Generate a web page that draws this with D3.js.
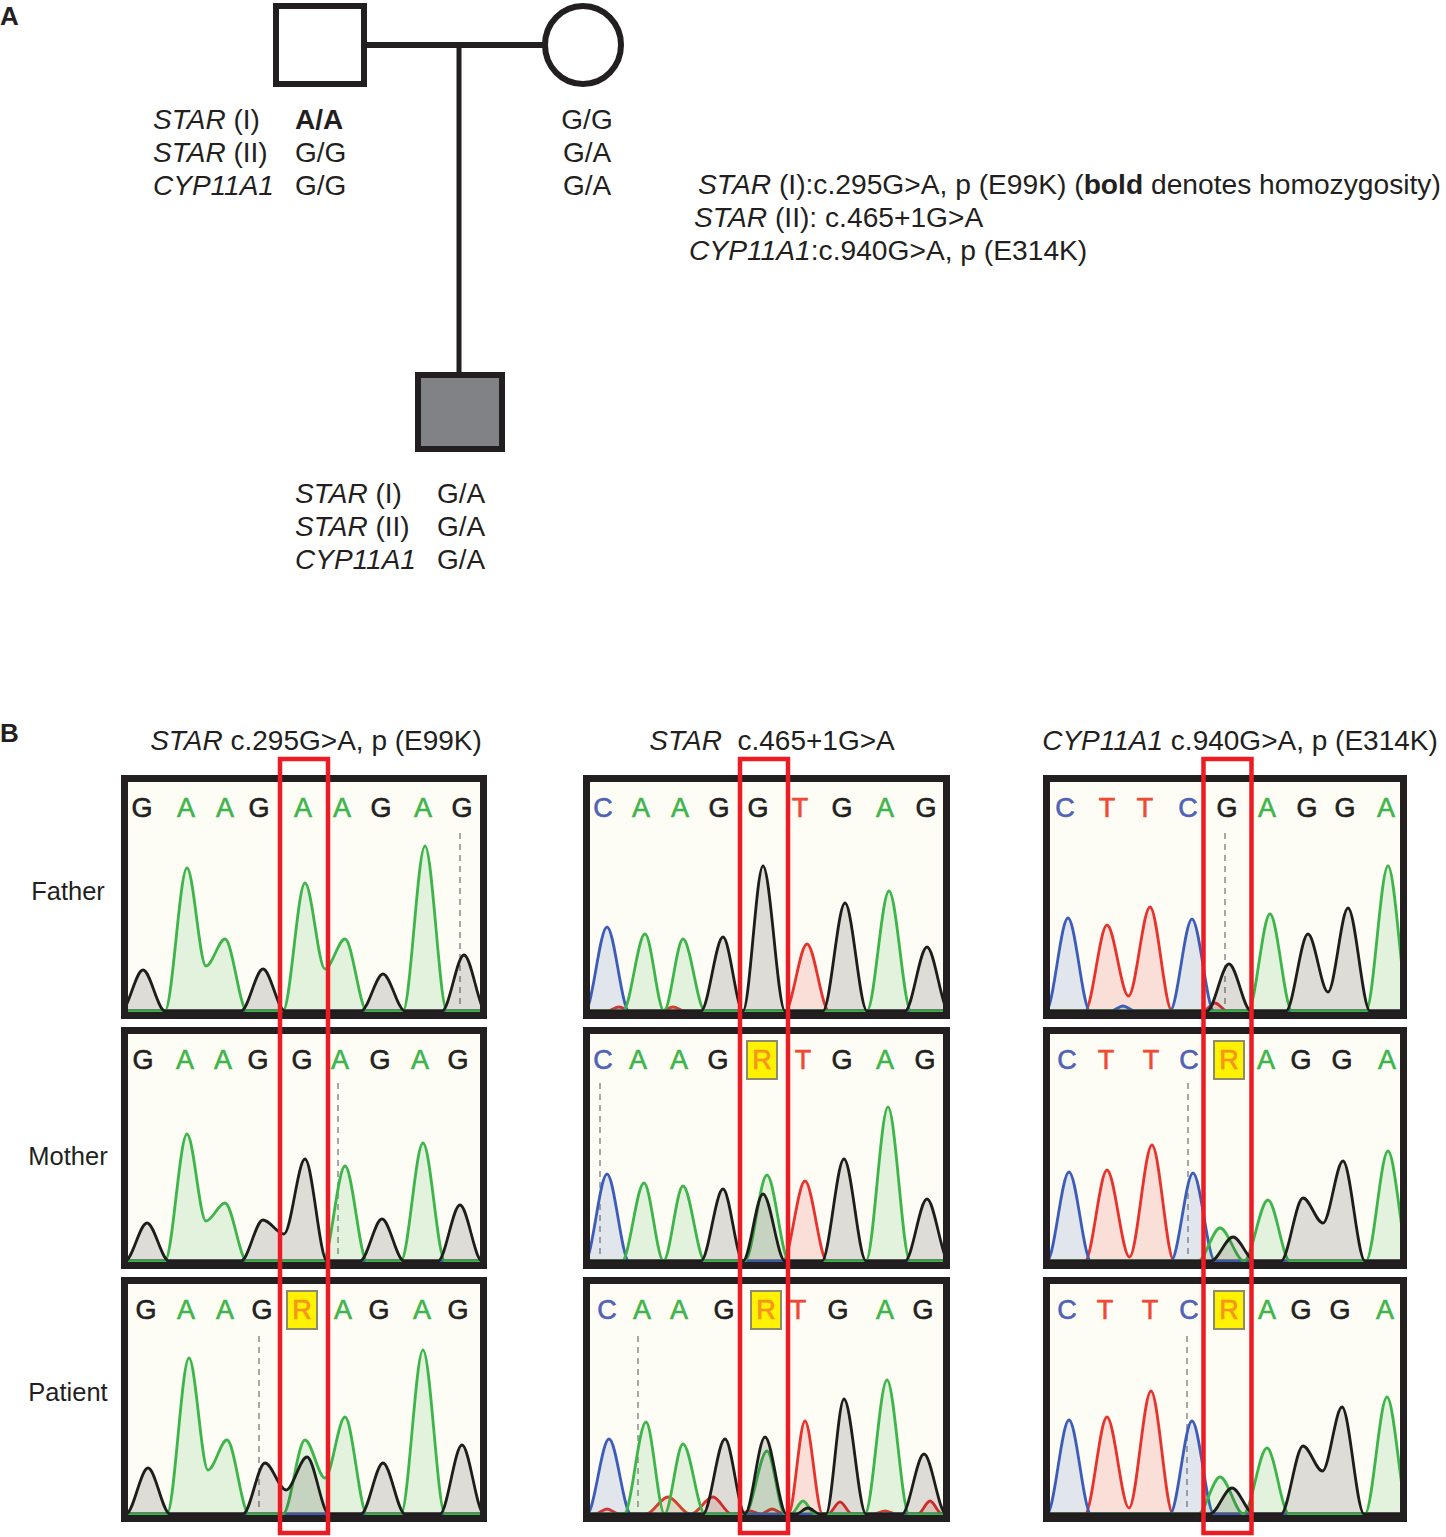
<!DOCTYPE html>
<html lang="en">
<head>
<meta charset="UTF-8">
<title>pedigree and chromatograms</title>
<script src="https://d3js.org/d3.v7.min.js"></script>
<style>
    body { margin: 0; background: #fff; }
    text { font-family: "Liberation Sans", Arial, sans-serif; fill: #231f20; white-space: pre; }
</style>
</head>
<body>
<script>
    const width = 1446
    const height = 1537

    // ---------- panel A: pedigree genotypes
    const genes = ["STAR", "STAR", "CYP11A1"]
    const geneTags = [" (I)", " (II)", ""]
    const fatherGT = ["A/A", "G/G", "G/G"]
    const fatherBold = [true, false, false]
    const motherGT = ["G/G", "G/A", "G/A"]
    const patientGT = ["G/A", "G/A", "G/A"]
    const variantNotes = [" (I):c.295G>A, p (E99K) (", " (II): c.465+1G>A", ":c.940G>A, p (E314K)"]

    // ---------- panel B: chromatograms
    const rowNames = ["Father", "Mother", "Patient"]
    const assayGene = ["STAR", "STAR", "CYP11A1"]
    const assayText = [" c.295G>A, p (E99K)", "  c.465+1G>A", " c.940G>A, p (E314K)"]
    const calls = [
        ["GAAGAAGAG", "GAAGGAGAG", "GAAGRAGAG"],
        ["CAAGGTGAG", "CAAGRTGAG", "CAAGRTGAG"],
        ["CTTCGAGGA", "CTTCRAGGA", "CTTCRAGGA"]
    ]
    const callPos = [
        [[14, 58, 97, 131, 175, 214, 253, 295, 334], [15, 57, 95, 130, 174, 212, 252, 292, 330], [18, 58, 97, 134, 174, 215, 251, 294, 330]],
        [[13, 51, 90, 129, 168, 210, 252, 295, 336], [13, 48, 89, 128, 172, 213, 252, 295, 335], [17, 52, 89, 134, 176, 208, 248, 295, 333]],
        [[15, 57, 95, 138, 177, 217, 257, 295, 336], [17, 56, 101, 139, 179, 216, 251, 292, 337], [17, 55, 100, 139, 179, 217, 251, 290, 335]]
    ]
    // peaks: [trace position, base, height, valley height to next peak of same base]
    const peaksStarI = [
        [[15, "G", 41], [59, "A", 143, 45], [97, "A", 72], [135, "G", 42], [177, "A", 128, 42], [217, "A", 72],
            [255, "G", 37], [297, "A", 165], [336, "G", 56]],
        [[19, "G", 38], [59, "A", 127, 40], [97, "A", 58], [135, "G", 41, 27], [177, "G", 102], [217, "A", 95],
            [254, "G", 42], [295, "A", 118], [332, "G", 56]],
        [[20, "G", 46], [61, "A", 156, 44], [99, "A", 74], [137, "G", 51, 24], [179, "G", 57], [177, "A", 74, 36],
            [217, "A", 97], [255, "G", 51], [295, "A", 164], [334, "G", 69]]
    ]
    const peaksStarII = [
        [[17, "C", 84], [55, "A", 77], [93, "A", 72], [133, "G", 74], [173, "G", 145], [217, "T", 67],
            [255, "G", 108], [299, "A", 120], [337, "G", 64], [29, "T", 4], [83, "T", 4]],
        [[17, "C", 87], [54, "A", 78], [93, "A", 75], [133, "G", 72], [173, "G", 67], [177, "A", 86],
            [215, "T", 80], [254, "G", 102], [298, "A", 154], [337, "G", 62]],
        [[19, "C", 75], [56, "A", 92], [93, "A", 70], [135, "G", 75], [175, "G", 77], [177, "A", 63],
            [215, "T", 93], [254, "G", 115], [297, "A", 134], [334, "G", 60],
            [17, "T", 5], [78, "T", 17], [123, "T", 17], [160, "T", 3], [182, "T", 5], [250, "T", 12],
            [295, "T", 3], [340, "T", 13], [213, "A", 13], [218, "G", 6]]
    ]
    const peaksCyp = [
        [[18, "C", 93], [57, "T", 86, 15], [100, "T", 104], [142, "C", 92], [179, "G", 47], [220, "A", 97],
            [258, "G", 77, 19], [298, "G", 103], [338, "A", 145], [165, "T", 8], [73, "C", 5]],
        [[19, "C", 89], [57, "T", 91, 4], [102, "T", 116], [143, "C", 88], [170, "A", 33, 0], [183, "G", 24],
            [218, "A", 61], [253, "G", 63, 38], [293, "G", 100], [338, "A", 110]],
        [[19, "C", 94], [57, "T", 97, 6], [101, "T", 123], [142, "C", 93], [170, "A", 37, 0], [182, "G", 26],
            [217, "A", 66], [253, "G", 68, 43], [292, "G", 107], [337, "A", 117]]
    ]
    const peaks = [peaksStarI, peaksStarII, peaksCyp]
    const cursorPos = [[332, 210, 131], [null, 10, 48], [175, 138, 137]]
    const targetPos = [176, 174, 177.5]

    const baseColor = {A: "#3db54a", C: "#3c5cb8", G: "#1d1d1b", T: "#e8322c"}
    const letterColor = {A: "#3db54a", C: "#4f62b6", G: "#231f20", T: "#ef4a33", R: "#f7941d"}
    const channelOrder = ["T", "C", "A", "G"]

    var svg = d3.select("body")
        .append("svg")
        .attr("width", width)
        .attr("height", height)

    // ===== panel A =====
    svg.append("text").text("A").attr("x", 0).attr("y", 25)
        .attr("font-size", 26).attr("font-weight", "bold")

    const ink = "#231f20"
    // mating line and descent line
    svg.append("line").attr("x1", 364).attr("x2", 545).attr("y1", 45).attr("y2", 45)
        .attr("stroke", ink).attr("stroke-width", 6)
    svg.append("line").attr("x1", 459).attr("x2", 459).attr("y1", 45).attr("y2", 375)
        .attr("stroke", ink).attr("stroke-width", 5)
    // father
    svg.append("rect").attr("x", 276).attr("y", 6).attr("width", 88).attr("height", 78)
        .attr("fill", "#fff").attr("stroke", ink).attr("stroke-width", 6)
    // mother
    svg.append("ellipse").attr("cx", 583).attr("cy", 45).attr("rx", 38).attr("ry", 39)
        .attr("fill", "#fff").attr("stroke", ink).attr("stroke-width", 6)
    // patient
    svg.append("rect").attr("x", 418).attr("y", 375).attr("width", 84).attr("height", 74)
        .attr("fill", "#808285").attr("stroke", ink).attr("stroke-width", 6)

    var lineY = d3.scaleLinear().domain([0, 1]).range([0, 33])

    function geneLabel(x, y, i) {
        var t = svg.append("text").attr("x", x).attr("y", y).attr("font-size", 28)
        t.append("tspan").text(genes[i]).attr("font-style", "italic")
        t.append("tspan").text(geneTags[i])
    }
    for (var i = 0; i < 3; i++) {
        geneLabel(153, 129 + lineY(i), i)
        svg.append("text").text(fatherGT[i])
            .attr("x", 295).attr("y", 129 + lineY(i)).attr("font-size", 28)
            .attr("font-weight", fatherBold[i] ? "bold" : "normal")
        svg.append("text").text(motherGT[i])
            .attr("x", 587).attr("y", 129 + lineY(i)).attr("font-size", 28)
            .attr("text-anchor", "middle")
        geneLabel(295, 503 + lineY(i), i)
        svg.append("text").text(patientGT[i])
            .attr("x", 437).attr("y", 503 + lineY(i)).attr("font-size", 28)
    }
    // variant legend
    var legendX = [698, 694, 689]
    for (var i = 0; i < 3; i++) {
        var t = svg.append("text").attr("x", legendX[i]).attr("y", 194 + lineY(i)).attr("font-size", 28.2)
        t.append("tspan").text(genes[i]).attr("font-style", "italic")
        t.append("tspan").text(variantNotes[i])
        if (i === 0) {
            t.append("tspan").text("bold").attr("font-weight", "bold")
            t.append("tspan").text(" denotes homozygosity)")
        }
    }

    // ===== panel B =====
    svg.append("text").text("B").attr("x", 0).attr("y", 742)
        .attr("font-size", 26).attr("font-weight", "bold")

    const colLeft = [121, 583, 1043]
    const colWidth = [366, 367, 364]
    const rowTop = [775, 1027, 1277]
    const rowHeight = [244, 242, 245]
    const border = 7
    const titleX = [316, 772, 1240]
    const rowLabelY = [900, 1165, 1401]

    for (var c = 0; c < 3; c++) {
        var t = svg.append("text").attr("x", titleX[c]).attr("y", 750)
            .attr("font-size", 28).attr("text-anchor", "middle")
        t.append("tspan").text(assayGene[c]).attr("font-style", "italic")
        t.append("tspan").text(assayText[c])
    }
    for (var r = 0; r < 3; r++) {
        svg.append("text").text(rowNames[r])
            .attr("x", 68).attr("y", rowLabelY[r])
            .attr("font-size", 25.5).attr("text-anchor", "middle")
    }

    function channelPoints(list) {
        var pts = [[-15, 0]]
        list.forEach(function (p, i) {
            var prev = list[i - 1], next = list[i + 1]
            var w = p[2] < 15 ? 12 : 22
            var joined = prev && prev[3] != null
            if (!joined) {
                var lf = p[0] - w
                if (prev) lf = Math.max(lf, (prev[0] + p[0]) / 2)
                if (lf > pts[pts.length - 1][0] + 0.5) pts.push([lf, 0])
            }
            pts.push([p[0], p[2]])
            if (p[3] != null && next) {
                pts.push([(p[0] + next[0]) / 2, p[3]])
            } else {
                var rf = p[0] + w
                if (next) rf = Math.min(rf, (p[0] + next[0]) / 2)
                pts.push([rf, 0])
            }
        })
        pts.push([370, 0])
        return pts
    }

    var clipId = 0
    for (var c = 0; c < 3; c++) {
        var innerW = colWidth[c] - 2 * border
        var xs = d3.scaleLinear().domain([0, innerW]).range([colLeft[c] + border, colLeft[c] + border + innerW])
        for (var r = 0; r < 3; r++) {
            var baseline = rowTop[r] + rowHeight[r] - 8
            var ys = d3.scaleLinear().domain([0, 220]).range([baseline, baseline - 220])
            var g = svg.append("g")

            g.append("rect")
                .attr("x", colLeft[c]).attr("y", rowTop[r])
                .attr("width", colWidth[c]).attr("height", rowHeight[r])
                .attr("fill", "#fdfcf5")

            clipId++
            g.append("clipPath").attr("id", "clip" + clipId)
                .append("rect")
                .attr("x", colLeft[c] + border).attr("y", rowTop[r] + border)
                .attr("width", innerW).attr("height", rowHeight[r] - 2 * border)

            // cursor line
            if (cursorPos[c][r] != null) {
                g.append("line")
                    .attr("x1", xs(cursorPos[c][r])).attr("x2", xs(cursorPos[c][r]))
                    .attr("y1", ys(178)).attr("y2", ys(2))
                    .attr("stroke", "#a7a7a5").attr("stroke-width", 2)
                    .attr("stroke-dasharray", "6,5")
            }

            var traces = g.append("g").attr("clip-path", "url(#clip" + clipId + ")")
            var area = d3.area().x(d => xs(d[0])).y0(ys(0)).y1(d => ys(d[1])).curve(d3.curveMonotoneX)
            var line = d3.line().x(d => xs(d[0])).y(d => ys(d[1])).curve(d3.curveMonotoneX)
            channelOrder.forEach(function (ch) {
                var list = peaks[c][r].filter(p => p[1] === ch).sort((a, b) => a[0] - b[0])
                var pts = channelPoints(list)
                traces.append("path").attr("d", area(pts))
                    .attr("fill", baseColor[ch]).attr("fill-opacity", 0.14)
                traces.append("path").attr("d", line(pts))
                    .attr("fill", "none").attr("stroke", baseColor[ch])
                    .attr("stroke-width", 2.8).attr("stroke-linejoin", "round")
            })

            // base calls
            var letterY = rowTop[r] + 33
            calls[c][r].split("").forEach(function (b, i) {
                if (b === "R") {
                    g.append("rect")
                        .attr("x", xs(callPos[c][r][i]) - 15).attr("y", letterY - 19)
                        .attr("width", 30).attr("height", 38)
                        .attr("fill", "#fff200").attr("stroke", "#8d8b6a").attr("stroke-width", 2)
                }
                g.append("text").text(b)
                    .attr("x", xs(callPos[c][r][i])).attr("y", letterY)
                    .attr("dominant-baseline", "central").attr("text-anchor", "middle")
                    .attr("font-size", 27)
                    .style("fill", letterColor[b])
                    .style("stroke", letterColor[b]).style("stroke-width", 0.6)
            })

            g.append("rect")
                .attr("x", colLeft[c] + border / 2).attr("y", rowTop[r] + border / 2)
                .attr("width", colWidth[c] - border).attr("height", rowHeight[r] - border)
                .attr("fill", "none").attr("stroke", "#231f20").attr("stroke-width", border)
        }
        // highlighted position
        svg.append("rect")
            .attr("x", xs(targetPos[c]) - 24).attr("y", 759)
            .attr("width", 48).attr("height", 774)
            .attr("fill", "none").attr("stroke", "#ed1c24").attr("stroke-width", 4.5)
    }
</script>
</body>
</html>
